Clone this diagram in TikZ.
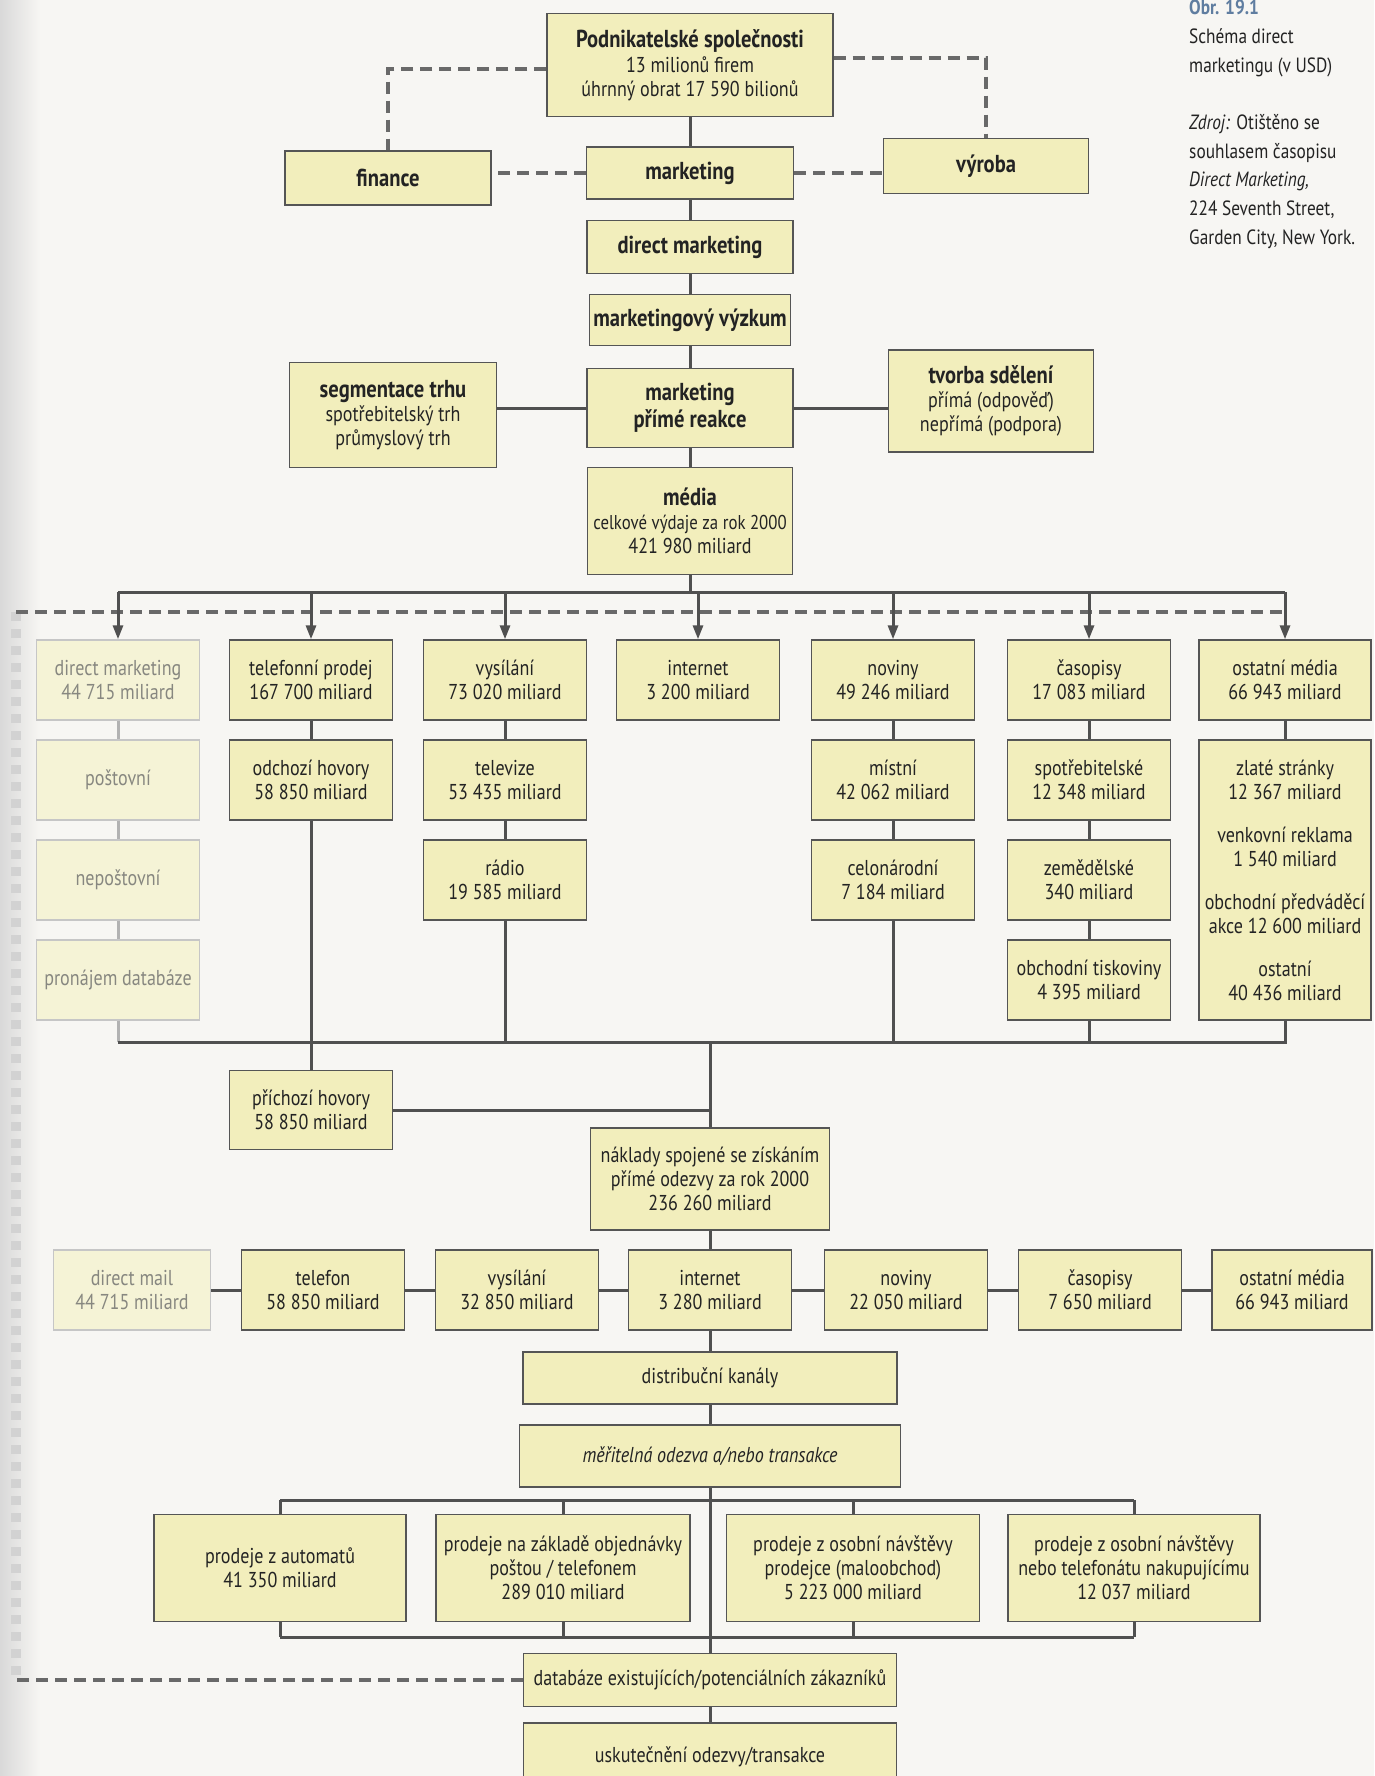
\documentclass[tikz,border=0pt]{standalone}
\usepackage{fontspec}
\setmainfont{PT Sans}[FakeStretch=0.84]
\usetikzlibrary{arrows.meta}
\definecolor{bg}{RGB}{247,246,243}
\definecolor{boxfill}{RGB}{242,238,188}
\definecolor{fadefill}{RGB}{245,243,214}
\definecolor{bordercol}{RGB}{85,85,85}
\definecolor{linecol}{RGB}{80,80,80}
\definecolor{dashcol}{RGB}{105,105,105}
\definecolor{txt}{RGB}{35,35,35}
\definecolor{fadetxt}{RGB}{135,135,128}
\definecolor{obrblue}{RGB}{95,125,160}
\newcommand{\hdfont}{\fontsize{24.5}{27}\selectfont\bfseries}
\tikzset{
  box/.style={draw=bordercol, line width=1.4pt, fill=boxfill, align=center, inner sep=2pt,
    text=txt, font=\fontsize{21.5}{24}\selectfont, minimum width=163pt, minimum height=80pt},
  fadebox/.style={box, draw=gray!45, fill=fadefill, text=fadetxt},
  hd/.style={box, font=\hdfont},
  conn/.style={draw=linecol, line width=3pt},
  fconn/.style={draw=gray!60, line width=3pt},
  dsh/.style={draw=dashcol, line width=4pt, dash pattern=on 12pt off 7pt},
  gutterdash/.style={draw=gray!35, line width=10pt, dash pattern=on 9pt off 8pt},
  arr/.style={conn, -{Triangle[width=10pt,length=14pt]}},
  capt/.style={align=left, text=txt, font=\fontsize{20.6}{28.8}\selectfont, inner sep=0pt},
}
\begin{document}
\begin{tikzpicture}[x=1pt,y=-1pt]
\useasboundingbox (0,0) rectangle (1374,1776);
\fill[bg] (0,0) rectangle (1374,1776);
\shade[left color=gray!30, right color=bg] (0,0) rectangle (40,1776);

% caption
\node[capt, anchor=north west] (cap) at (1189,0)
  {\textcolor{obrblue}{\bfseries Obr. 19.1}\\ Schéma direct\\ marketingu (v USD)\\[28pt]
   \textit{Zdroj:} Otištěno se\\ souhlasem časopisu\\ \textit{Direct Marketing,}\\
   224 Seventh Street,\\ Garden City, New York.};

% top part
\node[box, minimum width=286pt, minimum height=103pt] (pod) at (690,65)
  {{\hdfont Podnikatelské společnosti}\\[1pt] 13 milionů firem\\ úhrnný obrat 17 590 bilionů};
\node[hd, minimum width=206pt, minimum height=54pt] (fin) at (388,178) {finance};
\node[hd, minimum width=207pt, minimum height=52pt] (mkt) at (690,173) {marketing};
\node[hd, minimum width=205pt, minimum height=55pt] (vyr) at (986,166) {výroba};
\node[hd, minimum width=206pt, minimum height=53pt] (dmk) at (690,247) {direct marketing};
\node[hd, minimum width=201pt, minimum height=51pt] (mvy) at (690,320) {marketingový výzkum};
\node[box, minimum width=207pt, minimum height=105pt] (seg) at (393,415)
  {{\hdfont segmentace trhu}\\ spotřebitelský trh\\ průmyslový trh};
\node[hd, minimum width=206pt, minimum height=79pt] (mpr) at (690,408) {marketing\\ přímé reakce};
\node[box, minimum width=205pt, minimum height=102pt] (tvs) at (991,401)
  {{\hdfont tvorba sdělení}\\ přímá (odpověď)\\ nepřímá (podpora)};
\node[box, minimum width=205pt, minimum height=107pt, font=\fontsize{20}{24}\selectfont] (med) at (690,521)
  {{\hdfont média}\\ celkové výdaje za rok 2000\\ {\fontsize{21.5}{24}\selectfont 421 980 miliard}};

\draw[dsh] ([yshift=-4pt]pod.west) -| (fin.north);
\draw[dsh] ([yshift=7pt]pod.east) -| (vyr.north);
\draw[dsh] (mkt.west) -- (mkt.west -| fin.east);
\draw[dsh] (mkt.east) -- (mkt.east -| vyr.west);
\draw[conn] (pod.south) -- (mkt.north);
\draw[conn] (mkt.south) -- (dmk.north);
\draw[conn] (dmk.south) -- (mvy.north);
\draw[conn] (mvy.south) -- (mpr.north);
\draw[conn] (mpr.south) -- (med.north);
\draw[conn] (mpr.west) -- (mpr.west -| seg.east);
\draw[conn] (mpr.east) -- (mpr.east -| tvs.west);

% media rows
\node[fadebox] (r1a) at (118,680) {direct marketing\\ 44 715 miliard};
\node[box] (r1b) at (311,680) {telefonní prodej\\ 167 700 miliard};
\node[box] (r1c) at (505,680) {vysílání\\ 73 020 miliard};
\node[box] (r1d) at (698,680) {internet\\ 3 200 miliard};
\node[box] (r1e) at (893,680) {noviny\\ 49 246 miliard};
\node[box] (r1f) at (1089,680) {časopisy\\ 17 083 miliard};
\node[box, minimum width=172pt] (r1g) at (1285,680) {ostatní média\\ 66 943 miliard};

\node[fadebox] (r2a) at (118,780) {poštovní};
\node[box] (r2b) at (311,780) {odchozí hovory\\ 58 850 miliard};
\node[box] (r2c) at (505,780) {televize\\ 53 435 miliard};
\node[box] (r2e) at (893,780) {místní\\ 42 062 miliard};
\node[box] (r2f) at (1089,780) {spotřebitelské\\ 12 348 miliard};
\node[box, minimum width=172pt, minimum height=280pt] (big) at (1285,880)
  {zlaté stránky\\ 12 367 miliard\\[19pt] venkovní reklama\\ 1 540 miliard\\[19pt]
   obchodní předváděcí\\ akce 12 600 miliard\\[19pt] ostatní\\ 40 436 miliard};

\node[fadebox] (r3a) at (118,880) {nepoštovní};
\node[box] (r3c) at (505,880) {rádio\\ 19 585 miliard};
\node[box] (r3e) at (893,880) {celonárodní\\ 7 184 miliard};
\node[box] (r3f) at (1089,880) {zemědělské\\ 340 miliard};

\node[fadebox] (r4a) at (118,980) {pronájem databáze};
\node[box] (r4f) at (1089,980) {obchodní tiskoviny\\ 4 395 miliard};

\coordinate (sL) at (118,592);
\coordinate (sR) at (1285,592);
\coordinate (dL) at (16,612);
\coordinate (dR) at (1285,612);
\coordinate (bL) at (118,1042);
\coordinate (bR) at (1285,1042);
\coordinate (bM) at (710,1042);
\coordinate (dB) at (16,1680);

\draw[gutterdash] (dL) -- (dB);
\draw[dsh] (dL) -- (dR);
\draw[conn] (med.south) -- (med.south |- sL);
\draw[conn] (sL) -- (sR);
\draw[arr] (sL) -- (r1a.north);
\draw[arr] (r1b.north |- sL) -- (r1b.north);
\draw[arr] (r1c.north |- sL) -- (r1c.north);
\draw[arr] (r1d.north |- sL) -- (r1d.north);
\draw[arr] (r1e.north |- sL) -- (r1e.north);
\draw[arr] (r1f.north |- sL) -- (r1f.north);
\draw[arr] (sR) -- (r1g.north);

\draw[fconn] (r1a.south) -- (r2a.north);
\draw[fconn] (r2a.south) -- (r3a.north);
\draw[fconn] (r3a.south) -- (r4a.north);
\draw[fconn] (r4a.south) -- (bL);
\draw[conn] (bL) -- (bR) -- (big.south);
\draw[conn] (r1b.south) -- (r2b.north);
\draw[conn] (r1c.south) -- (r2c.north);
\draw[conn] (r2c.south) -- (r3c.north);
\draw[conn] (r3c.south) -- (r3c.south |- bL);
\draw[conn] (r1e.south) -- (r2e.north);
\draw[conn] (r2e.south) -- (r3e.north);
\draw[conn] (r3e.south) -- (r3e.south |- bL);
\draw[conn] (r1f.south) -- (r2f.north);
\draw[conn] (r2f.south) -- (r3f.north);
\draw[conn] (r3f.south) -- (r4f.north);
\draw[conn] (r4f.south) -- (r4f.south |- bL);
\draw[conn] (r1g.south) -- (big.north);

% lower part
\node[box, minimum height=79pt] (pri) at (311,1110) {příchozí hovory\\ 58 850 miliard};
\node[box, minimum width=239pt, minimum height=102pt] (nak) at (710,1179)
  {náklady spojené se získáním\\ přímé odezvy za rok 2000\\ 236 260 miliard};
\draw[conn] (r2b.south) -- (pri.north);
\draw[conn] (bM) -- (nak.north);
\draw[conn] (pri.east) -- (pri.east -| bM);

\node[fadebox, minimum width=157pt] (dml) at (132,1290) {direct mail\\ 44 715 miliard};
\node[box] (tel) at (323,1290) {telefon\\ 58 850 miliard};
\node[box] (vy2) at (517,1290) {vysílání\\ 32 850 miliard};
\node[box] (in2) at (710,1290) {internet\\ 3 280 miliard};
\node[box] (no2) at (906,1290) {noviny\\ 22 050 miliard};
\node[box] (ca2) at (1100,1290) {časopisy\\ 7 650 miliard};
\node[box, minimum width=160pt] (os2) at (1292,1290) {ostatní média\\ 66 943 miliard};
\draw[conn] (dml.east) -- (tel.west);
\draw[conn] (tel.east) -- (vy2.west);
\draw[conn] (vy2.east) -- (in2.west);
\draw[conn] (in2.east) -- (no2.west);
\draw[conn] (no2.east) -- (ca2.west);
\draw[conn] (ca2.east) -- (os2.west);
\draw[conn] (nak.south) -- (in2.north);

\node[box, minimum width=374pt, minimum height=52pt] (dist) at (710,1378) {distribuční kanály};
\node[box, minimum width=381pt, minimum height=62pt, font=\fontsize{21.5}{24}\selectfont\itshape] (mer) at (710,1456) {měřitelná odezva a/nebo transakce};
\draw[conn] (in2.south) -- (dist.north);
\draw[conn] (dist.south) -- (mer.north);

\node[box, minimum width=252pt, minimum height=107pt] (s1) at (280,1568) {prodeje z automatů\\ 41 350 miliard};
\node[box, minimum width=254pt, minimum height=107pt] (s2) at (563,1568) {prodeje na základě objednávky\\ poštou / telefonem\\ 289 010 miliard};
\node[box, minimum width=253pt, minimum height=107pt] (s3) at (853,1568) {prodeje z osobní návštěvy\\ prodejce (maloobchod)\\ 5 223 000 miliard};
\node[box, minimum width=252pt, minimum height=107pt] (s4) at (1134,1568) {prodeje z osobní návštěvy\\ nebo telefonátu nakupujícímu\\ 12 037 miliard};

\coordinate (uL) at (280,1500);
\coordinate (uR) at (1134,1500);
\coordinate (lL) at (280,1637);
\coordinate (lR) at (1134,1637);
\draw[conn] (uL) -- (uR);
\draw[conn] (lL) -- (lR);
\draw[conn] (s1.north) -- (s1.north |- uL);
\draw[conn] (s2.north) -- (s2.north |- uL);
\draw[conn] (s3.north) -- (s3.north |- uL);
\draw[conn] (s4.north) -- (s4.north |- uL);
\draw[conn] (s1.south) -- (s1.south |- lL);
\draw[conn] (s2.south) -- (s2.south |- lL);
\draw[conn] (s3.south) -- (s3.south |- lL);
\draw[conn] (s4.south) -- (s4.south |- lL);

\node[box, minimum width=373pt, minimum height=53pt] (dat) at (710,1680) {databáze existujících/potenciálních zákazníků};
\node[box, minimum width=373pt, minimum height=68pt] (usk) at (710,1757) {uskutečnění odezvy/transakce};
\draw[conn] (mer.south) -- (dat.north);
\draw[conn] (dat.south) -- (usk.north);
\draw[dsh] (dat.west) -- (dB);
\end{tikzpicture}
\end{document}
